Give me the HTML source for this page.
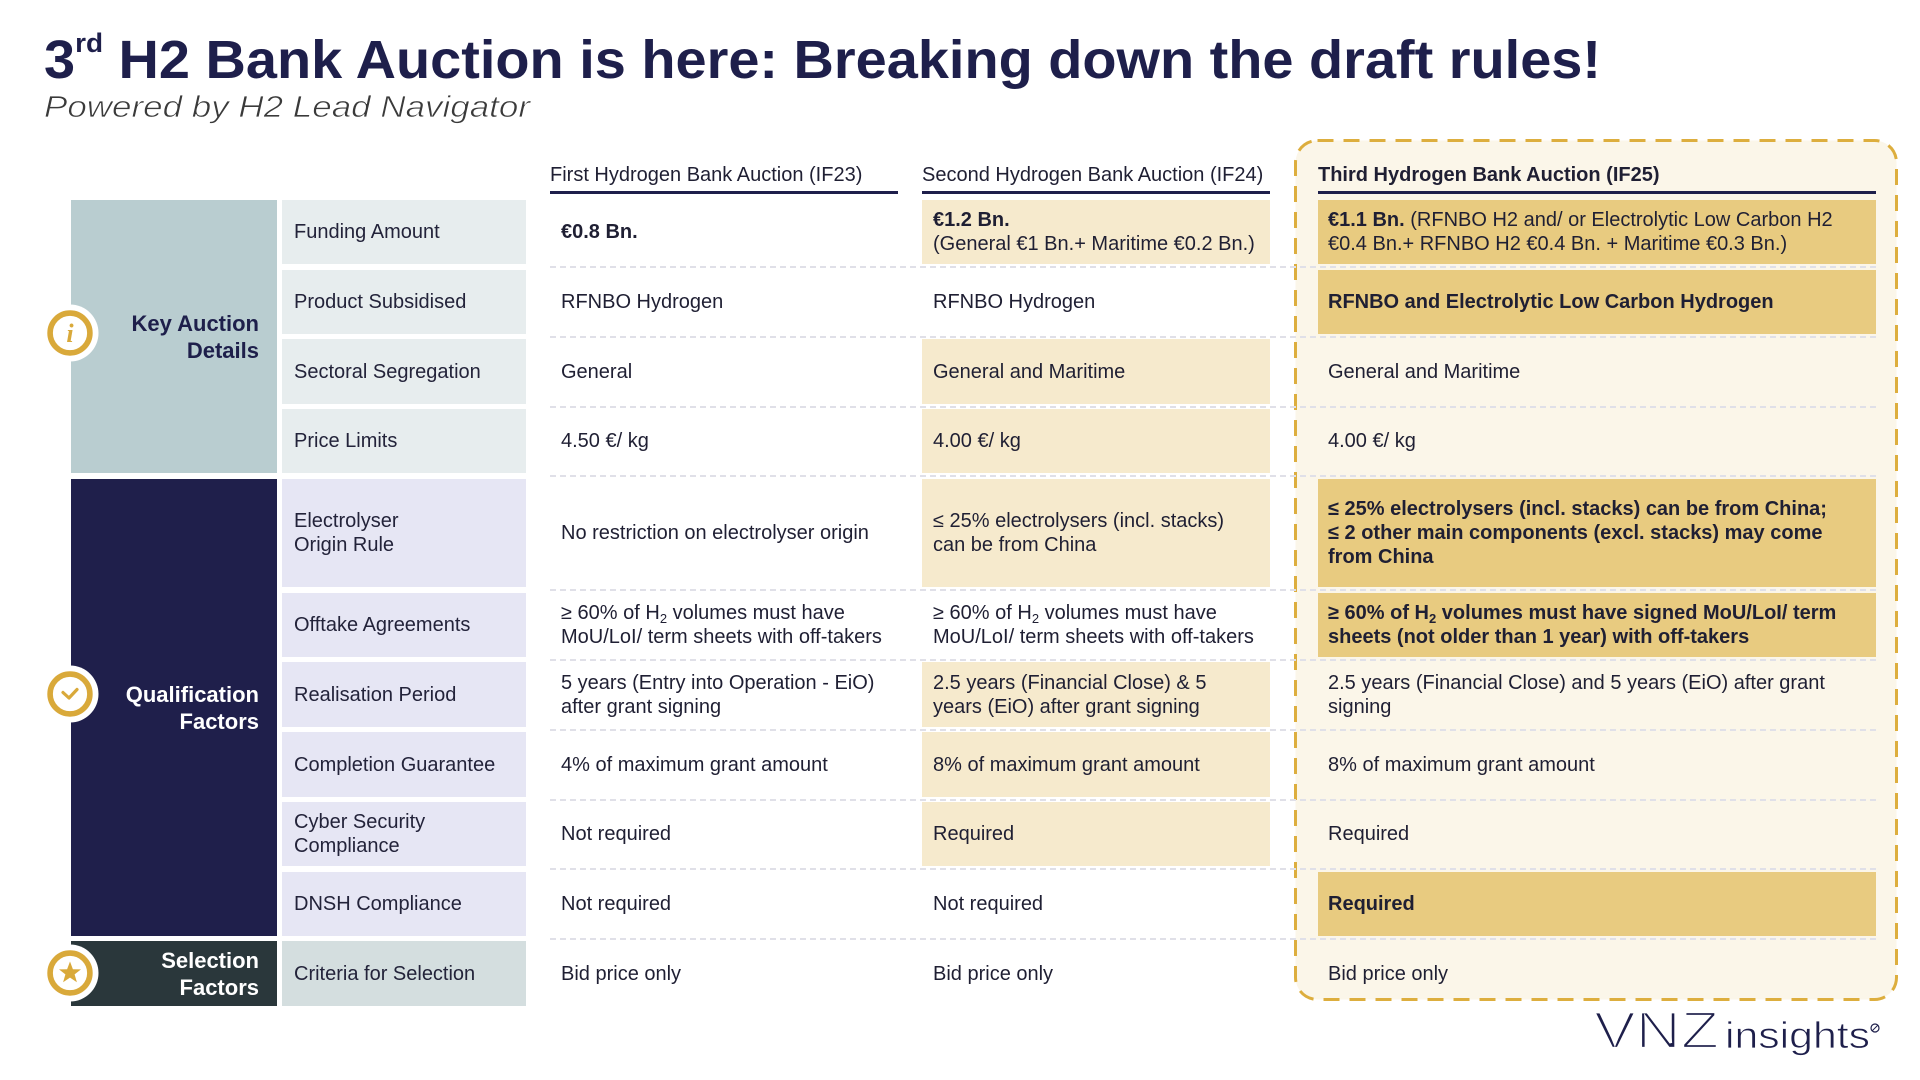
<!DOCTYPE html>
<html>
<head>
<meta charset="utf-8">
<style>
  html,body{margin:0;padding:0;}
  body{width:1920px;height:1080px;position:relative;overflow:hidden;background:#ffffff;
       font-family:"Liberation Sans",Arial,sans-serif;color:#23233a;}
  .abs{position:absolute;}
  .grp{position:absolute;left:71px;width:206px;display:flex;align-items:center;justify-content:flex-end;
       box-sizing:border-box;padding-right:18px;text-align:right;font-weight:bold;font-size:22px;line-height:27px;}
  .lab{position:absolute;left:282px;width:244px;display:flex;align-items:center;box-sizing:border-box;
       padding-left:12px;font-size:20px;line-height:24px;color:#23233a;}
  .cell{position:absolute;display:flex;align-items:center;box-sizing:border-box;padding-left:11px;
        font-size:20px;line-height:24px;white-space:nowrap;color:#1f1f33;}
  .c1{left:550px;width:348px;}
  .c2{left:922px;width:348px;}
  .c3{left:1318px;width:558px;padding-left:10px;}
  .h2{background:#F6EACD;}
  .h3{background:#E8CB80;}
  .sep{position:absolute;left:550px;width:1326px;height:2px;
       background:repeating-linear-gradient(90deg,#E0E0E8 0 6px,transparent 6px 10px);}
  .hdr{position:absolute;top:163px;font-size:20px;line-height:24px;color:#1f1f33;white-space:nowrap;}
  .ul{position:absolute;top:191px;height:3px;background:#1E1F4B;}
  sub{font-size:13px;vertical-align:-4px;line-height:0;}
</style>
</head>
<body>

<!-- Third auction dashed box -->
<svg class="abs" style="left:1290px;top:136px;" width="612" height="868" viewBox="0 0 612 868">
  <rect x="5.5" y="4.5" width="601" height="859" rx="22" ry="22" fill="#FBF6E9" stroke="#DDAE3E" stroke-width="3" stroke-dasharray="16 10"/>
</svg>

<!-- Title -->
<svg class="abs" style="left:0;top:0;" width="1920" height="140" viewBox="0 0 1920 140">
  <text x="44" y="78" font-family="Liberation Sans, Arial, sans-serif" font-weight="bold" font-size="54" fill="#1E1F4B" textLength="1557" lengthAdjust="spacingAndGlyphs">3<tspan font-size="27" dy="-26">rd</tspan><tspan dy="26"> H2 Bank Auction is here: Breaking down the draft rules!</tspan></text>
  <text x="44" y="117" font-family="Liberation Sans, Arial, sans-serif" font-style="italic" font-size="31" fill="#3a3a3a" stroke="#ffffff" stroke-width="0.7" textLength="486" lengthAdjust="spacingAndGlyphs">Powered by H2 Lead Navigator</text>
</svg>

<!-- Column headers -->
<div class="hdr" style="left:550px;">First Hydrogen Bank Auction (IF23)</div>
<div class="ul" style="left:550px;width:348px;"></div>
<div class="hdr" style="left:922px;">Second Hydrogen Bank Auction (IF24)</div>
<div class="ul" style="left:922px;width:348px;"></div>
<div class="hdr" style="left:1318px;font-weight:bold;">Third Hydrogen Bank Auction (IF25)</div>
<div class="ul" style="left:1318px;width:558px;"></div>

<!-- Group blocks -->
<div class="grp" style="top:200px;height:273px;background:#B9CDD0;color:#1E1F4B;">Key Auction<br>Details</div>
<div class="grp" style="top:479px;height:457px;background:#1F1F4B;color:#ffffff;">Qualification<br>Factors</div>
<div class="grp" style="top:941px;height:65px;background:#2A373B;color:#ffffff;">Selection<br>Factors</div>

<!-- Icons -->
<svg class="abs" style="left:40px;top:303px;" width="60" height="60" viewBox="0 0 60 60">
  <circle cx="30" cy="30" r="28.5" fill="#ffffff"/>
  <circle cx="30" cy="30" r="19.9" fill="#ffffff" stroke="#D9A93A" stroke-width="5.6"/>
  <text x="30" y="39" text-anchor="middle" font-family="Liberation Serif, serif" font-style="italic" font-weight="bold" font-size="26" fill="#D9A93A">i</text>
</svg>
<svg class="abs" style="left:40px;top:664px;" width="60" height="60" viewBox="0 0 60 60">
  <circle cx="30" cy="30" r="28.5" fill="#ffffff"/>
  <circle cx="30" cy="30" r="19.9" fill="#ffffff" stroke="#D9A93A" stroke-width="5.6"/>
  <polyline points="23,28.5 29,34 37,25.5" fill="none" stroke="#D9A93A" stroke-width="3.2" stroke-linecap="round" stroke-linejoin="round"/>
</svg>
<svg class="abs" style="left:40px;top:943px;" width="60" height="60" viewBox="0 0 60 60">
  <circle cx="30" cy="30" r="28.5" fill="#ffffff"/>
  <circle cx="30" cy="30" r="19.9" fill="#ffffff" stroke="#D9A93A" stroke-width="5.6"/>
  <polygon points="30,18.5 32.9,26.2 41,26.4 34.6,31.4 36.9,39.3 30,34.6 23.1,39.3 25.4,31.4 19,26.4 27.1,26.2" fill="#D9A93A"/>
</svg>

<!-- Label cells -->
<div class="lab" style="top:200px;height:64px;background:#E7EDEE;">Funding Amount</div>
<div class="lab" style="top:270px;height:64px;background:#E7EDEE;">Product Subsidised</div>
<div class="lab" style="top:339px;height:65px;background:#E7EDEE;">Sectoral Segregation</div>
<div class="lab" style="top:409px;height:64px;background:#E7EDEE;">Price Limits</div>
<div class="lab" style="top:479px;height:108px;background:#E6E6F4;">Electrolyser<br>Origin Rule</div>
<div class="lab" style="top:593px;height:64px;background:#E6E6F4;">Offtake Agreements</div>
<div class="lab" style="top:662px;height:65px;background:#E6E6F4;">Realisation Period</div>
<div class="lab" style="top:732px;height:65px;background:#E6E6F4;">Completion Guarantee</div>
<div class="lab" style="top:802px;height:64px;background:#E6E6F4;">Cyber Security<br>Compliance</div>
<div class="lab" style="top:872px;height:64px;background:#E6E6F4;">DNSH Compliance</div>
<div class="lab" style="top:941px;height:65px;background:#D4DEDF;">Criteria for Selection</div>

<!-- Separators -->
<div class="sep" style="top:266px;"></div>
<div class="sep" style="top:336px;"></div>
<div class="sep" style="top:406px;"></div>
<div class="sep" style="top:475px;"></div>
<div class="sep" style="top:589px;"></div>
<div class="sep" style="top:659px;"></div>
<div class="sep" style="top:729px;"></div>
<div class="sep" style="top:799px;"></div>
<div class="sep" style="top:868px;"></div>
<div class="sep" style="top:938px;"></div>

<!-- Row 1 -->
<div class="cell c1" style="top:200px;height:64px;"><b>€0.8 Bn.</b></div>
<div class="cell c2 h2" style="top:200px;height:64px;"><div><b>€1.2 Bn.</b><br>(General €1 Bn.+ Maritime €0.2 Bn.)</div></div>
<div class="cell c3 h3" style="top:200px;height:64px;"><div><b>€1.1 Bn.</b> (RFNBO H2 and/ or Electrolytic Low Carbon H2<br>€0.4 Bn.+ RFNBO H2 €0.4 Bn. + Maritime €0.3 Bn.)</div></div>

<!-- Row 2 -->
<div class="cell c1" style="top:270px;height:64px;">RFNBO Hydrogen</div>
<div class="cell c2" style="top:270px;height:64px;">RFNBO Hydrogen</div>
<div class="cell c3 h3" style="top:270px;height:64px;"><b>RFNBO and Electrolytic Low Carbon Hydrogen</b></div>

<!-- Row 3 -->
<div class="cell c1" style="top:339px;height:65px;">General</div>
<div class="cell c2 h2" style="top:339px;height:65px;">General and Maritime</div>
<div class="cell c3" style="top:339px;height:65px;">General and Maritime</div>

<!-- Row 4 -->
<div class="cell c1" style="top:409px;height:64px;">4.50 €/ kg</div>
<div class="cell c2 h2" style="top:409px;height:64px;">4.00 €/ kg</div>
<div class="cell c3" style="top:409px;height:64px;">4.00 €/ kg</div>

<!-- Row 5 -->
<div class="cell c1" style="top:479px;height:108px;">No restriction on electrolyser origin</div>
<div class="cell c2 h2" style="top:479px;height:108px;"><div>≤ 25% electrolysers (incl. stacks)<br>can be from China</div></div>
<div class="cell c3 h3" style="top:479px;height:108px;"><div><b>≤ 25% electrolysers (incl. stacks) can be from China;<br>≤ 2 other main components (excl. stacks) may come<br>from China</b></div></div>

<!-- Row 6 -->
<div class="cell c1" style="top:593px;height:64px;"><div>≥ 60% of H<sub>2</sub> volumes must have<br>MoU/LoI/ term sheets with off-takers</div></div>
<div class="cell c2" style="top:593px;height:64px;"><div>≥ 60% of H<sub>2</sub> volumes must have<br>MoU/LoI/ term sheets with off-takers</div></div>
<div class="cell c3 h3" style="top:593px;height:64px;"><div><b>≥ 60% of H<sub>2</sub> volumes must have signed MoU/LoI/ term<br>sheets (not older than 1 year) with off-takers</b></div></div>

<!-- Row 7 -->
<div class="cell c1" style="top:662px;height:65px;"><div>5 years (Entry into Operation - EiO)<br>after grant signing</div></div>
<div class="cell c2 h2" style="top:662px;height:65px;"><div>2.5 years (Financial Close) &amp; 5<br>years (EiO) after grant signing</div></div>
<div class="cell c3" style="top:662px;height:65px;"><div>2.5 years (Financial Close) and 5 years (EiO) after grant<br>signing</div></div>

<!-- Row 8 -->
<div class="cell c1" style="top:732px;height:65px;">4% of maximum grant amount</div>
<div class="cell c2 h2" style="top:732px;height:65px;">8% of maximum grant amount</div>
<div class="cell c3" style="top:732px;height:65px;">8% of maximum grant amount</div>

<!-- Row 9 -->
<div class="cell c1" style="top:802px;height:64px;">Not required</div>
<div class="cell c2 h2" style="top:802px;height:64px;">Required</div>
<div class="cell c3" style="top:802px;height:64px;">Required</div>

<!-- Row 10 -->
<div class="cell c1" style="top:872px;height:64px;">Not required</div>
<div class="cell c2" style="top:872px;height:64px;">Not required</div>
<div class="cell c3 h3" style="top:872px;height:64px;"><b>Required</b></div>

<!-- Row 11 -->
<div class="cell c1" style="top:941px;height:65px;">Bid price only</div>
<div class="cell c2" style="top:941px;height:65px;">Bid price only</div>
<div class="cell c3" style="top:941px;height:65px;">Bid price only</div>

<!-- Logo -->
<svg class="abs" style="left:1580px;top:1000px;" width="320" height="70" viewBox="1580 1000 320 70">
  <text x="1594" y="1048" font-family="Liberation Sans, Arial, sans-serif" font-size="52" fill="#1E1F4B" stroke="#ffffff" stroke-width="2.2" textLength="125" lengthAdjust="spacingAndGlyphs">VNZ</text>
  <text x="1725" y="1048" font-family="Liberation Sans, Arial, sans-serif" font-size="37" fill="#1E1F4B" stroke="#ffffff" stroke-width="0.8" textLength="145" lengthAdjust="spacingAndGlyphs">insights</text>
  <circle cx="1875" cy="1028" r="4" fill="none" stroke="#1E1F4B" stroke-width="1.2"/>
  <line x1="1872" y1="1031" x2="1878" y2="1025" stroke="#1E1F4B" stroke-width="1"/>
</svg>

</body>
</html>
